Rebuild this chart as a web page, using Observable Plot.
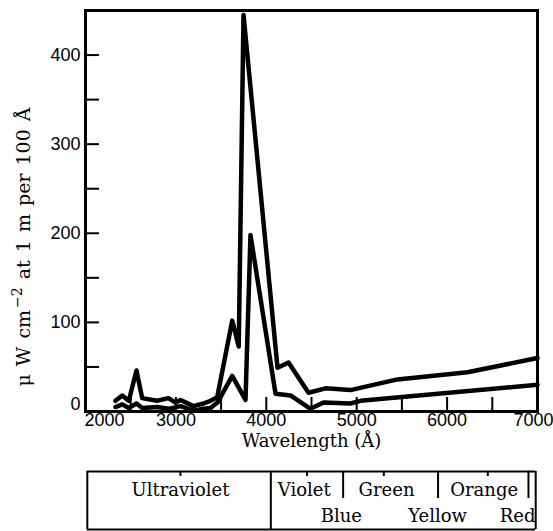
<!DOCTYPE html>
<html><head><meta charset="utf-8">
<script src="https://cdn.jsdelivr.net/npm/d3@7"></script>
<script src="https://cdn.jsdelivr.net/npm/@observablehq/plot@0.6"></script>
<style>
html,body{margin:0;padding:0;background:#fff;}
#chart svg{display:block;}
</style></head><body><div id="chart"></div>
<script>
// Upper spectrum (µW cm^-2 at 1 m per 100 Å)
const upperWavelength = [2332, 2406, 2479, 2564, 2627, 2793, 2918, 2996, 3051, 3195, 3305, 3383, 3457, 3623, 3695, 3748, 4124, 4246, 4467, 4655, 4931, 5451, 6226, 7000];
const upperPower      = [12,   18,   12,   46,   15,   12,   15,   10,   13,   6,    9,    12,   16,   102,  73,   445,  49,   55,   21,   26,   24,   36,   44,   60];
// Lower spectrum
const lowerWavelength = [2332, 2406, 2479, 2564, 2627, 2793, 2918, 3051, 3195, 3305, 3383, 3460, 3623, 3770, 3825, 4102, 4268, 4489, 4633, 4931, 5042, 7000];
const lowerPower      = [5,    8,    4,    9,    4,    5,    3,    6,    1,    3,    4,    10,   40,   13,   198,  20,   18,   3,    10,   9,    12,   30];

const xTickValues = [2000, 2500, 3000, 3500, 4000, 4500, 5000, 5500, 6000, 6500, 7000];
const xTickLabels = [3000, 4000, 5000, 6000];
const xFirstLabel = [2000];
const xLastLabel = [7000];
const yTickValues = [0, 50, 100, 150, 200, 250, 300, 350, 400];
const yTickLabels = [100, 200, 300, 400];
const yZeroLabel = [0];
const xTitle = "Wavelength (Å)";
const yTitleParts = ["μ W cm", "−2", " at 1 m per 100 Å"];

// Colour-band table under the axis (wavelengths in Å)
const bandNames   = ["Ultraviolet", "Violet", "Green", "Orange", "Blue", "Yellow", "Red"];
const bandCenters = [3050, 4420, 5330, 6410, 4830, 5895, 6780];
const bandRows    = ["top", "top", "top", "top", "bottom", "bottom", "bottom"];
const fullDividers = [2020, 4050, 6980];
const topDividers  = [4850, 5900, 6900];
const topNotches   = [3050, 4450, 5300, 6450];

const upper = upperWavelength.map((w, i) => ({w, p: upperPower[i]}));
const lower = lowerWavelength.map((w, i) => ({w, p: lowerPower[i]}));
const bands = bandNames.map((name, i) => ({name, c: bandCenters[i], row: bandRows[i]}));

const serif = "DejaVu Serif";
const sans = "Liberation Sans";
const tickFont = 18;

const main = Plot.plot({
  width: 553, height: 460,
  marginLeft: 85, marginRight: 16, marginTop: 10, marginBottom: 49,
  x: {domain: [2000, 7000], label: null},
  y: {domain: [0, 450], label: null},
  style: {fontFamily: sans, fontSize: tickFont + "px", color: "black", background: "white"},
  marks: [
    Plot.line(lower, {x: "w", y: "p", stroke: "black", strokeWidth: 4.5, strokeLinejoin: "round", strokeLinecap: "round"}),
    Plot.line(upper, {x: "w", y: "p", stroke: "black", strokeWidth: 4.5, strokeLinejoin: "round", strokeLinecap: "round"}),
    Plot.axisX({ticks: xTickValues, tickSize: -14, strokeWidth: 2, tickFormat: () => "", label: null}),
    Plot.axisX({ticks: xTickLabels, tickSize: 0, tickPadding: 2, tickFormat: d => String(d), label: null, fontSize: tickFont}),
    Plot.axisX({ticks: xFirstLabel, tickSize: 0, tickPadding: 2, tickFormat: d => String(d), label: null, fontSize: tickFont, textAnchor: "start", dx: -1}),
    Plot.axisX({ticks: xLastLabel, tickSize: 0, tickPadding: 2, tickFormat: d => String(d), label: null, fontSize: tickFont, textAnchor: "end", dx: 16}),
    Plot.axisY({ticks: yTickValues, tickSize: -14, strokeWidth: 2, tickFormat: () => "", label: null}),
    Plot.axisY({ticks: yTickLabels, tickSize: 0, tickPadding: 5, tickFormat: d => String(d), label: null, fontSize: tickFont}),
    Plot.axisY({ticks: yZeroLabel, tickSize: 0, tickPadding: 5, tickFormat: d => String(d), label: null, fontSize: tickFont, dy: -7}),
    Plot.frame({stroke: "black", strokeWidth: 3}),
    Plot.text([xTitle], {text: d => d, frameAnchor: "bottom", dy: 35, fontFamily: serif, fontSize: 18})
  ]
});

// rotated y-axis title with a real superscript
const yt = d3.select(main).append("text")
  .attr("transform", "translate(30,247) rotate(-90)")
  .attr("text-anchor", "middle")
  .attr("font-family", serif)
  .attr("font-size", 19)
  .attr("word-spacing", 2)
  .attr("fill", "black");
yt.append("tspan").text(yTitleParts[0]);
yt.append("tspan").attr("dy", -8).attr("font-size", 14).attr("dx", 2).text(yTitleParts[1]);
yt.append("tspan").attr("dy", 8).text(yTitleParts[2]);

const table = Plot.plot({
  width: 553, height: 71,
  marginLeft: 85, marginRight: 16, marginTop: 0, marginBottom: 0,
  x: {domain: [2000, 7000], axis: null},
  y: {domain: [0, 71], range: [0, 71], axis: null},
  style: {background: "white"},
  marks: [
    Plot.ruleY([11, 69], {x1: fullDividers[0], x2: fullDividers[fullDividers.length - 1], y: d => d, stroke: "black", strokeWidth: 2}),
    Plot.ruleX(fullDividers, {x: d => d, y1: 11, y2: 69, stroke: "black", strokeWidth: 2}),
    Plot.ruleX(topDividers, {x: d => d, y1: 11, y2: 38, stroke: "black", strokeWidth: 2}),
    Plot.ruleX(topNotches, {x: d => d, y1: 11, y2: 16, stroke: "black", strokeWidth: 2}),
    Plot.text(bands, {x: "c", y: d => d.row === "top" ? 30 : 56, text: "name", fontFamily: serif, fontSize: 18, fill: "black"})
  ]
});

const el = document.getElementById("chart");
el.appendChild(main);
el.appendChild(table);
</script>
</body></html>
